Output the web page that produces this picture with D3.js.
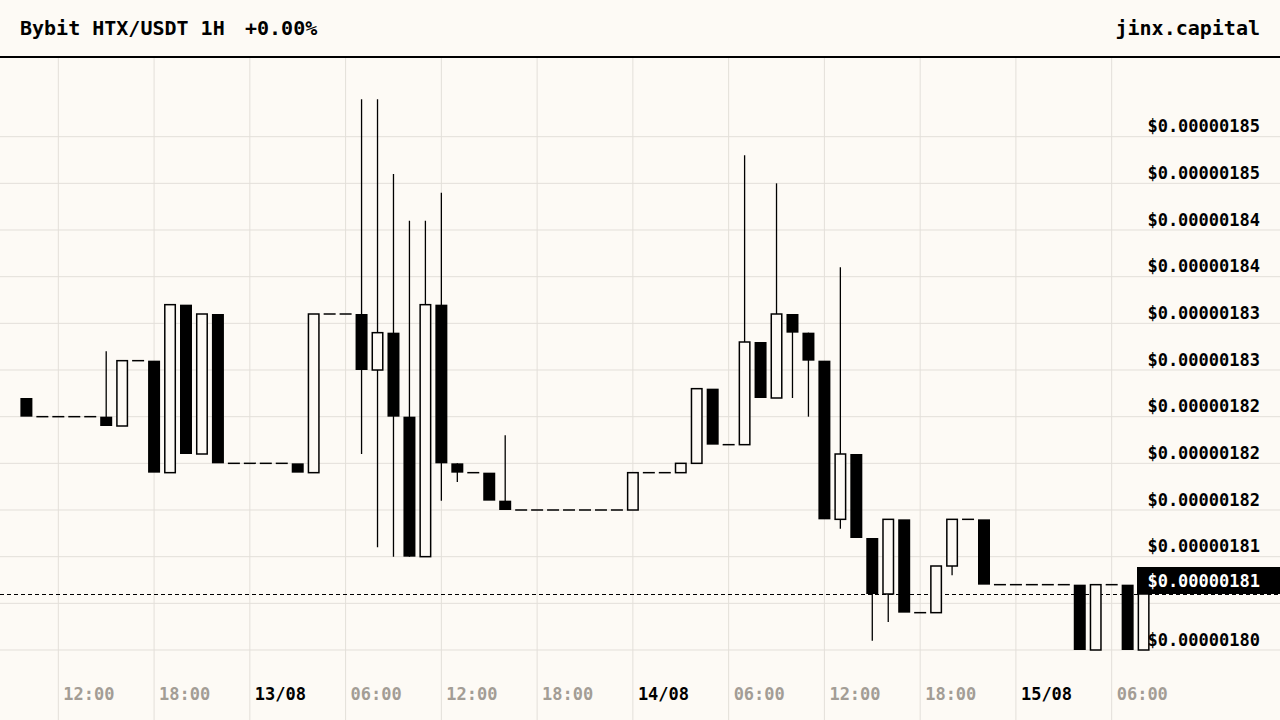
<!DOCTYPE html>
<html>
<head>
<meta charset="utf-8">
<script src="https://cdn.jsdelivr.net/npm/d3@7"></script>
<style>
  html, body { margin: 0; padding: 0; background: #fdfaf5; }
  svg { display: block; }
  text { font-family: "DejaVu Sans Mono", monospace; font-weight: bold; }
</style>
</head>
<body>
<div id="chart"></div>
<script>
// Bybit HTX/USDT, hourly candles (prices in units of 1e-8 USDT)
const START = Date.UTC(2024, 7, 12, 10); // first candle: 12/08 10:00

const opens = [
  182.7, 182.5, 182.5, 182.5, 182.5, 182.5, 182.4, 183.1, 183.1, 181.9,
  183.7, 182.1, 183.6, 182.0, 182.0, 182.0, 182.0, 182.0, 181.9, 183.6,
  183.6, 183.6, 183.0, 183.4, 182.5, 181.0, 183.7, 182.0, 181.9, 181.9,
  181.6, 181.5, 181.5, 181.5, 181.5, 181.5, 181.5, 181.5, 181.5, 181.9,
  181.9, 181.9, 182.0, 182.8, 182.2, 182.2, 183.3, 182.7, 183.6, 183.4,
  183.1, 181.4, 182.1, 181.2, 180.6, 181.4, 180.4, 180.4, 180.9, 181.4,
  181.4, 180.7, 180.7, 180.7, 180.7, 180.7, 180.7, 180.0, 180.7, 180.7,
  180.0
];
const highs = [
  182.7, 182.5, 182.5, 182.5, 182.5, 183.2, 183.1, 183.1, 183.1, 183.7,
  183.7, 183.6, 183.6, 182.0, 182.0, 182.0, 182.0, 182.0, 183.6, 183.6,
  183.6, 185.9, 185.9, 185.1, 184.6, 184.6, 184.9, 182.0, 181.9, 181.9,
  182.3, 181.5, 181.5, 181.5, 181.5, 181.5, 181.5, 181.5, 181.9, 181.9,
  181.9, 182.0, 182.8, 182.8, 182.2, 185.3, 183.3, 185.0, 183.6, 183.4,
  183.1, 184.1, 182.1, 181.2, 181.4, 181.4, 180.4, 180.9, 181.4, 181.4,
  181.4, 180.7, 180.7, 180.7, 180.7, 180.7, 180.7, 180.7, 180.7, 180.7,
  180.6
];
const lows = [
  182.5, 182.5, 182.5, 182.5, 182.5, 182.4, 182.4, 183.1, 181.9, 181.9,
  182.1, 182.1, 182.0, 182.0, 182.0, 182.0, 182.0, 181.9, 181.9, 183.6,
  183.6, 182.1, 181.1, 181.0, 181.0, 181.0, 181.6, 181.8, 181.9, 181.6,
  181.5, 181.5, 181.5, 181.5, 181.5, 181.5, 181.5, 181.5, 181.5, 181.9,
  181.9, 181.9, 182.0, 182.2, 182.2, 182.2, 182.7, 182.7, 182.7, 182.5,
  181.4, 181.3, 181.2, 180.1, 180.3, 180.4, 180.4, 180.4, 180.8, 181.4,
  180.7, 180.7, 180.7, 180.7, 180.7, 180.7, 180.0, 180.0, 180.7, 180.0,
  180.0
];
const closes = [
  182.5, 182.5, 182.5, 182.5, 182.5, 182.4, 183.1, 183.1, 181.9, 183.7,
  182.1, 183.6, 182.0, 182.0, 182.0, 182.0, 182.0, 181.9, 183.6, 183.6,
  183.6, 183.0, 183.4, 182.5, 181.0, 183.7, 182.0, 181.9, 181.9, 181.6,
  181.5, 181.5, 181.5, 181.5, 181.5, 181.5, 181.5, 181.5, 181.9, 181.9,
  181.9, 182.0, 182.8, 182.2, 182.2, 183.3, 182.7, 183.6, 183.4, 183.1,
  181.4, 182.1, 181.2, 180.6, 181.4, 180.4, 180.4, 180.9, 181.4, 181.4,
  180.7, 180.7, 180.7, 180.7, 180.7, 180.7, 180.0, 180.7, 180.7, 180.0,
  180.6
];

const priceTicks = [185.5, 185.0, 184.5, 184.0, 183.5, 183.0, 182.5, 182.0, 181.5, 181.0, 180.5, 180.0];
const priceTickLabels = [
  "$0.00000185", "$0.00000185", "$0.00000184", "$0.00000184", "$0.00000183", "$0.00000183",
  "$0.00000182", "$0.00000182", "$0.00000182", "$0.00000181", null, "$0.00000180"
];
const timeTickLabels = ["12:00", "18:00", "13/08", "06:00", "12:00", "18:00", "14/08", "06:00", "12:00", "18:00", "15/08", "06:00"];
const lastPrice = 180.6;
const lastPriceLabel = "$0.00000181";

const WIDTH = 1280, HEIGHT = 720;
const HEADER_Y = 57;
const CANDLE_W = 12;

const candles = opens.map((o, i) => ({
  t: new Date(START + i * 3600e3),
  o: o, h: highs[i], l: lows[i], c: closes[i]
}));

const svg = d3.select("#chart").append("svg")
  .attr("width", WIDTH)
  .attr("height", HEIGHT);

svg.append("rect").attr("width", WIDTH).attr("height", HEIGHT).attr("fill", "#fdfaf5");

const x = d3.scaleUtc()
  .domain([candles[0].t, candles[candles.length - 1].t])
  .range([26.4, 1143.6]);

const y = d3.scaleLinear()
  .domain([180.0, 185.5])
  .range([650, 136.67]);

// grid
const xTicks = x.ticks(d3.utcHour.every(6));
svg.append("g").selectAll("line")
  .data(xTicks)
  .enter().append("line")
  .attr("x1", d => x(d)).attr("x2", d => x(d))
  .attr("y1", HEADER_Y).attr("y2", HEIGHT)
  .attr("stroke", "#e3dfd9").attr("stroke-width", 1);

svg.append("g").selectAll("line")
  .data(priceTicks)
  .enter().append("line")
  .attr("x1", 0).attr("x2", WIDTH)
  .attr("y1", d => y(d)).attr("y2", d => y(d))
  .attr("stroke", "#e3dfd9").attr("stroke-width", 1);

// header
svg.append("line")
  .attr("x1", 0).attr("x2", WIDTH)
  .attr("y1", HEADER_Y).attr("y2", HEADER_Y)
  .attr("stroke", "#000").attr("stroke-width", 2);

svg.append("text").attr("x", 20).attr("y", 35).attr("font-size", 20).attr("fill", "#000")
  .text("Bybit HTX/USDT 1H");
svg.append("text").attr("x", 245).attr("y", 35).attr("font-size", 20).attr("fill", "#000")
  .text("+0.00%");
svg.append("text").attr("x", 1260).attr("y", 35).attr("font-size", 20).attr("fill", "#000")
  .attr("text-anchor", "end").text("jinx.capital");

// last price dashed line
svg.append("line")
  .attr("x1", 0).attr("x2", WIDTH)
  .attr("y1", y(lastPrice) + 0.5).attr("y2", y(lastPrice) + 0.5)
  .attr("stroke", "#000").attr("stroke-width", 1)
  .attr("stroke-dasharray", "4,3")
  .attr("shape-rendering", "crispEdges");

// candles
const g = svg.append("g");
candles.forEach(d => {
  const cx = x(d.t);
  if (d.h > Math.max(d.o, d.c) || d.l < Math.min(d.o, d.c)) {
    g.append("line")
      .attr("x1", cx).attr("x2", cx)
      .attr("y1", y(d.h)).attr("y2", y(d.l))
      .attr("stroke", "#000").attr("stroke-width", 1.3);
  }
  if (d.o === d.c) {
    g.append("line")
      .attr("x1", cx - CANDLE_W / 2).attr("x2", cx + CANDLE_W / 2)
      .attr("y1", y(d.o)).attr("y2", y(d.o))
      .attr("stroke", "#000").attr("stroke-width", 1.5);
  } else if (d.c > d.o) {
    g.append("rect")
      .attr("x", cx - CANDLE_W / 2 + 0.75)
      .attr("y", y(d.c))
      .attr("width", CANDLE_W - 1.5)
      .attr("height", y(d.o) - y(d.c))
      .attr("fill", "#fdfaf5").attr("stroke", "#000").attr("stroke-width", 1.5);
  } else {
    g.append("rect")
      .attr("x", cx - CANDLE_W / 2)
      .attr("y", y(d.o))
      .attr("width", CANDLE_W)
      .attr("height", y(d.c) - y(d.o))
      .attr("fill", "#000");
  }
});

// price labels
svg.append("g").selectAll("text")
  .data(priceTicks.filter((d, i) => priceTickLabels[i]))
  .enter().append("text")
  .attr("x", 1260)
  .attr("y", d => y(d) - 4.5)
  .attr("text-anchor", "end")
  .attr("font-size", 17)
  .attr("fill", "#000")
  .text(d => priceTickLabels[priceTicks.indexOf(d)]);

// time labels
svg.append("g").selectAll("text")
  .data(xTicks)
  .enter().append("text")
  .attr("x", d => x(d) + 5)
  .attr("y", 700)
  .attr("font-size", 17)
  .attr("fill", (d, i) => timeTickLabels[i].includes("/") ? "#000" : "#a39d95")
  .text((d, i) => timeTickLabels[i]);

// last price tag
svg.append("rect")
  .attr("x", 1137).attr("y", y(lastPrice) - 27)
  .attr("width", WIDTH - 1137).attr("height", 27)
  .attr("fill", "#000");
svg.append("text")
  .attr("x", 1260).attr("y", y(lastPrice) - 7)
  .attr("text-anchor", "end")
  .attr("font-size", 17)
  .attr("fill", "#fff")
  .text(lastPriceLabel);
</script>
</body>
</html>
